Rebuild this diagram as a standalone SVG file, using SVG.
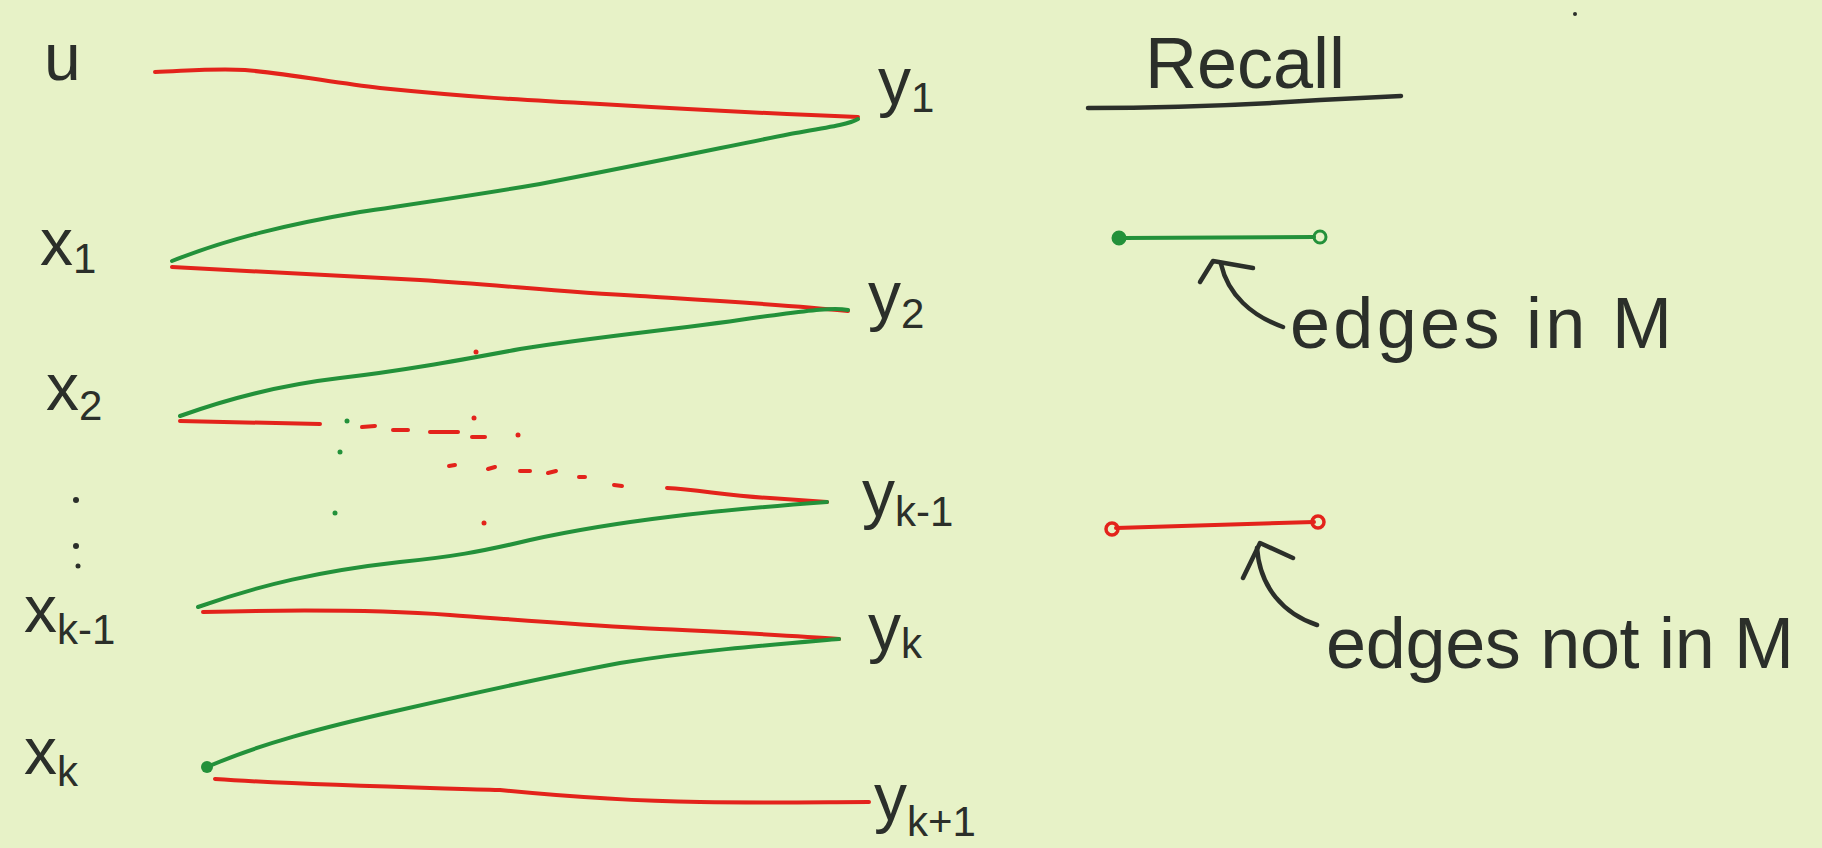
<svg xmlns="http://www.w3.org/2000/svg" width="1822" height="848" viewBox="0 0 1822 848">
<defs>
<style>
.bg{fill:#e7f2c7}
.lbl{font-family:"Liberation Sans",Arial,sans-serif;fill:#2b2f2a;font-size:66px}
.sub{font-size:42px}
.note{font-family:"Liberation Sans",Arial,sans-serif;fill:#2b2f2a;font-size:72px}
.r{fill:none;stroke:#e3231b;stroke-width:4;stroke-linecap:round;stroke-linejoin:round}
.g{fill:none;stroke:#23913a;stroke-width:4;stroke-linecap:round;stroke-linejoin:round}
.k{fill:none;stroke:#2b2f2a;stroke-width:4.5;stroke-linecap:round;stroke-linejoin:round}
.rd{fill:#e3231b}
.gd{fill:#23913a}
.kd{fill:#2b2f2a}
</style>
</defs>
<rect class="bg" x="0" y="0" width="1822" height="848"/>

<g id="node-u"><text class="lbl" x="44" y="80">u</text></g>
<g id="node-x1"><text class="lbl" x="40" y="265">x<tspan class="sub" dy="8">1</tspan></text></g>
<g id="node-x2"><text class="lbl" x="46" y="410">x<tspan class="sub" dy="10">2</tspan></text></g>
<g id="node-xk1"><text class="lbl" x="24" y="632">x<tspan class="sub" dy="12">k-1</tspan></text></g>
<g id="node-xk"><text class="lbl" x="24" y="774">x<tspan class="sub" dy="12">k</tspan></text></g>
<g id="node-y1"><text class="lbl" x="878" y="104">y<tspan class="sub" dy="8">1</tspan></text></g>
<g id="node-y2"><text class="lbl" x="868" y="318">y<tspan class="sub" dy="10">2</tspan></text></g>
<g id="node-yk1"><text class="lbl" x="862" y="516">y<tspan class="sub" dy="10">k-1</tspan></text></g>
<g id="node-yk"><text class="lbl" x="868" y="650">y<tspan class="sub" dy="8">k</tspan></text></g>
<g id="node-yk2"><text class="lbl" x="874" y="820">y<tspan class="sub" dy="16">k+1</tspan></text></g>

<g id="ellipsis">
<circle class="kd" cx="76" cy="500" r="3"/>
<circle class="kd" cx="76" cy="546" r="3"/>
<circle class="kd" cx="78" cy="566" r="2.5"/>
<circle class="kd" cx="1575" cy="14" r="2"/>
</g>

<g id="connectors">
<path class="r" d="M155,72 C185,71 215,68 245,70 C290,74 330,82 380,88 C470,97 520,100 600,104 C700,110 780,114 858,117"/>
<path class="g" d="M172,261 C230,238 290,224 360,212 C420,203 470,196 540,184 C640,165 720,148 790,134 C830,127 850,124 858,119"/>
<path class="r" d="M172,267 C260,272 340,276 420,280 C500,285 560,292 640,296 C720,301 790,305 848,311"/>
<path class="g" d="M180,416 C230,398 280,385 340,378 C400,371 450,362 520,349 C600,336 690,328 760,317 C800,312 830,307 848,310"/>
<path class="r" d="M180,421 L320,424"/>
<path class="r" d="M667,488 C700,490 730,496 770,498 C800,500 815,501 827,502"/>
<path class="g" d="M198,607 C260,585 320,571 400,562 C450,557 480,552 530,540 C620,520 720,510 827,502"/>
<path class="r" d="M203,612 C280,610 380,610 450,615 C520,620 570,624 640,628 C720,632 790,635 839,639"/>
<path class="g" d="M207,767 C260,744 320,728 400,710 C470,694 540,678 620,663 C700,650 780,644 839,639"/>
<path class="r" d="M215,779 C300,785 400,787 500,790 C560,796 620,801 700,802 C770,803 830,802 869,802"/>
<circle class="gd" cx="207" cy="767" r="6"/>
<g id="dashes">
<line class="r" x1="362" y1="427" x2="375" y2="426"/>
<line class="r" x1="393" y1="430" x2="408" y2="430"/>
<line class="r" x1="430" y1="432" x2="458" y2="432"/>
<line class="r" x1="472" y1="437" x2="485" y2="437"/>
<line class="r" x1="449" y1="466" x2="455" y2="465"/>
<line class="r" x1="488" y1="469" x2="495" y2="467"/>
<line class="r" x1="520" y1="471" x2="530" y2="471"/>
<line class="r" x1="548" y1="473" x2="556" y2="471"/>
<line class="r" x1="579" y1="477" x2="585" y2="477"/>
<line class="r" x1="614" y1="485" x2="622" y2="486"/>
<circle class="rd" cx="476" cy="352" r="2.5"/>
<circle class="rd" cx="474" cy="418" r="2.5"/>
<circle class="rd" cx="518" cy="435" r="2.5"/>
<circle class="rd" cx="484" cy="523" r="2.5"/>
<circle class="gd" cx="347" cy="421" r="2.5"/>
<circle class="gd" cx="340" cy="452" r="2.5"/>
<circle class="gd" cx="335" cy="513" r="2.5"/>
</g>
</g>

<g id="legend-title">
<text class="note" x="1145" y="88" font-size="80">Recall</text>
<path class="k" d="M1088,108 C1180,108 1260,104 1320,100 C1360,98 1385,97 1401,96"/>
</g>

<g id="legend-matched">
<line class="g" x1="1124" y1="238" x2="1314" y2="237"/>
<circle cx="1119" cy="238" r="6" fill="#23913a" stroke="#23913a" stroke-width="3"/>
<circle cx="1320" cy="237" r="6" fill="none" stroke="#23913a" stroke-width="3"/>
<path class="k" d="M1200,282 L1213,261 L1253,268"/>
<path class="k" d="M1221,264 C1228,295 1252,316 1283,327"/>
<text class="note" x="1290" y="348" textLength="382" lengthAdjust="spacing">edges in M</text>
</g>

<g id="legend-unmatched">
<line class="r" x1="1116" y1="528" x2="1314" y2="522"/>
<circle cx="1112" cy="529" r="6" fill="none" stroke="#e3231b" stroke-width="3.5"/>
<circle cx="1318" cy="522" r="6" fill="none" stroke="#e3231b" stroke-width="3.5"/>
<path class="k" d="M1243,578 L1260,543 L1293,558"/>
<path class="k" d="M1257,548 C1260,588 1284,614 1317,625"/>
<text class="note" x="1326" y="668" textLength="468" lengthAdjust="spacing">edges not in M</text>
</g>
</svg>
